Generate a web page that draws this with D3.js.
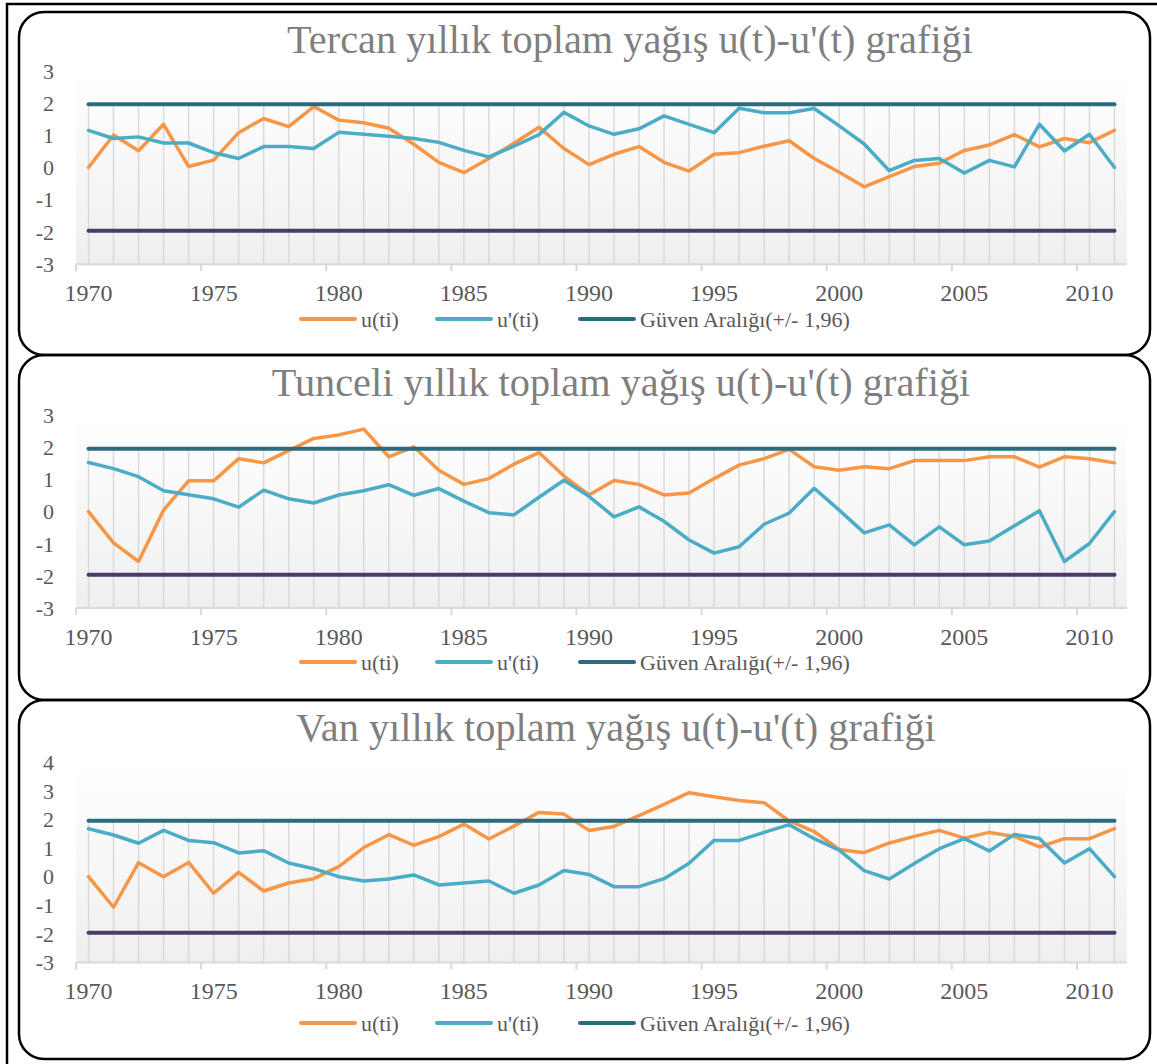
<!DOCTYPE html>
<html>
<head>
<meta charset="utf-8">
<script src="https://cdn.jsdelivr.net/npm/d3@7"></script>
<style>
  body { margin: 0; background: #fff; }
  svg { display: block; }
  text { font-family: "Liberation Serif", "DejaVu Serif", serif; }
</style>
</head>
<body>
<svg id="chart" width="1157" height="1064"></svg>
<script>
'use strict'

/****** DATA ******/

const YEARS = [1970, 1971, 1972, 1973, 1974, 1975, 1976, 1977, 1978, 1979,
               1980, 1981, 1982, 1983, 1984, 1985, 1986, 1987, 1988, 1989,
               1990, 1991, 1992, 1993, 1994, 1995, 1996, 1997, 1998, 1999,
               2000, 2001, 2002, 2003, 2004, 2005, 2006, 2007, 2008, 2009,
               2010, 2011]
const LABEL_YEARS = [1970, 1975, 1980, 1985, 1990, 1995, 2000, 2005, 2010]
const BOUND = 1.96

const TITLES = [
  "Tercan yıllık toplam yağış u(t)-u'(t) grafiği",
  "Tunceli yıllık toplam yağış u(t)-u'(t) grafiği",
  "Van yıllık toplam yağış u(t)-u'(t) grafiği"
]
const LEGEND_LABELS = ['u(ti)', "u'(ti)", 'Güven Aralığı(+/- 1,96)']

const Y_TICKS_A = [-3, -2, -1, 0, 1, 2, 3]
const Y_TICKS_B = [-3, -2, -1, 0, 1, 2, 3, 4]

// u(t) / u'(t) per station
const tercanU  = [0, 1.01, 0.52, 1.34, 0.03, 0.23, 1.08, 1.52, 1.27, 1.89,
                  1.47, 1.39, 1.22, 0.72, 0.16, -0.16, 0.28, 0.75, 1.25, 0.59,
                  0.09, 0.41, 0.65, 0.16, -0.11, 0.41, 0.46, 0.66, 0.83, 0.28,
                  -0.15, -0.60, -0.28, 0.03, 0.13, 0.53, 0.70, 1.02, 0.64, 0.90,
                  0.77, 1.15]
const tercanUp = [1.15, 0.90, 0.95, 0.76, 0.76, 0.46, 0.28, 0.65, 0.65, 0.59,
                  1.09, 1.03, 0.97, 0.90, 0.78, 0.53, 0.33, 0.66, 1.02, 1.71,
                  1.29, 1.03, 1.20, 1.60, 1.34, 1.08, 1.84, 1.70, 1.70, 1.83,
                  1.29, 0.73, -0.10, 0.22, 0.28, -0.17, 0.22, 0.02, 1.34, 0.51,
                  1.03, 0]

const tunceliU  = [0, -0.97, -1.55, 0.05, 0.96, 0.96, 1.65, 1.52, 1.90, 2.28,
                   2.39, 2.57, 1.71, 2.02, 1.29, 0.85, 1.03, 1.48, 1.84, 1.11,
                   0.52, 0.97, 0.85, 0.52, 0.58, 1.03, 1.45, 1.65, 1.94, 1.40,
                   1.29, 1.40, 1.34, 1.59, 1.59, 1.59, 1.71, 1.71, 1.39, 1.71,
                   1.65, 1.52]
const tunceliUp = [1.53, 1.34, 1.09, 0.65, 0.53, 0.40, 0.14, 0.67, 0.40, 0.27,
                   0.52, 0.65, 0.84, 0.51, 0.72, 0.33, -0.03, -0.10, 0.45, 0.98,
                   0.48, -0.16, 0.15, -0.30, -0.88, -1.29, -1.09, -0.39, -0.04, 0.73,
                   0.05, -0.66, -0.41, -1.03, -0.47, -1.03, -0.91, -0.44, 0.03, -1.55,
                   -0.99, 0]

const vanU  = [0, -1.07, 0.49, 0, 0.50, -0.58, 0.15, -0.50, -0.22, -0.07,
               0.35, 1.02, 1.47, 1.10, 1.40, 1.84, 1.32, 1.77, 2.25, 2.19,
               1.62, 1.76, 2.14, 2.53, 2.94, 2.80, 2.67, 2.59, 1.95, 1.58,
               0.95, 0.84, 1.18, 1.41, 1.62, 1.35, 1.55, 1.41, 1.04, 1.33,
               1.33, 1.68]
const vanUp = [1.68, 1.46, 1.17, 1.62, 1.27, 1.19, 0.83, 0.91, 0.48, 0.28,
               0, -0.15, -0.08, 0.06, -0.29, -0.22, -0.15, -0.58, -0.29, 0.22,
               0.08, -0.35, -0.35, -0.07, 0.47, 1.27, 1.27, 1.55, 1.82, 1.33,
               0.93, 0.21, -0.08, 0.46, 0.98, 1.33, 0.90, 1.48, 1.34, 0.48,
               0.98, 0]

/****** LAYOUT ******/

const COLORS = { u: '#f79646', up: '#4bacc6', upper: '#2c6b7d', lower: '#4b3b66' }
const PLOT_LEFT = 76, PLOT_RIGHT = 1127
const TEXT_GRAY = '#595959'

// panel boxes, plot areas, title / legend positions
const panels = [
  { title: TITLES[0], u: tercanU, up: tercanUp, ticks: Y_TICKS_A,
    box: [12, 355], plot: [70.8, 264.2], titleX: 630, titleY: 53, legendY: 319 },
  { title: TITLES[1], u: tunceliU, up: tunceliUp, ticks: Y_TICKS_A,
    box: [355, 700], plot: [415.3, 608.1], titleX: 621, titleY: 396, legendY: 662 },
  { title: TITLES[2], u: vanU, up: vanUp, ticks: Y_TICKS_B,
    box: [700, 1059], plot: [762.4, 962.4], titleX: 616, titleY: 741, legendY: 1023 }
]

/****** DRAW ******/

const svg = d3.select('#chart')

const grad = svg.append('defs').append('linearGradient')
  .attr('id', 'plotbg')
  .attr('x1', 0).attr('y1', 0).attr('x2', 0).attr('y2', 1)
grad.append('stop').attr('offset', '0%').attr('stop-color', '#ffffff')
grad.append('stop').attr('offset', '100%').attr('stop-color', '#efefef')

// outer frame
svg.append('rect')
  .attr('x', 7).attr('y', 4)
  .attr('width', 1170).attr('height', 1080)
  .attr('fill', 'none')
  .attr('stroke', '#000')
  .attr('stroke-width', 2.5)

const x = d3.scaleBand()
  .domain(YEARS)
  .range([PLOT_LEFT, PLOT_RIGHT])
  .padding(0)
const cx = yr => x(yr) + x.bandwidth() / 2

let titleSize = null

panels.forEach(p => {
  const g = svg.append('g')
  const top = p.plot[0], bottom = p.plot[1]

  g.append('rect')
    .attr('x', 19).attr('y', p.box[0])
    .attr('width', 1131).attr('height', p.box[1] - p.box[0])
    .attr('rx', 25).attr('ry', 25)
    .attr('fill', 'none')
    .attr('stroke', '#000')
    .attr('stroke-width', 2.5)

  const y = d3.scaleLinear()
    .domain(d3.extent(p.ticks))
    .range([bottom, top])

  // plot background
  g.append('rect')
    .attr('x', PLOT_LEFT).attr('y', top)
    .attr('width', PLOT_RIGHT - PLOT_LEFT).attr('height', bottom - top)
    .attr('fill', 'url(#plotbg)')

  // drop lines
  g.selectAll('.drop')
    .data(YEARS)
    .join('line')
      .attr('class', 'drop')
      .attr('x1', cx).attr('x2', cx)
      .attr('y1', y(BOUND)).attr('y2', bottom)
      .attr('stroke', '#d9d9d9')
      .attr('stroke-width', 1.5)

  // x axis
  g.append('line')
    .attr('x1', PLOT_LEFT).attr('x2', PLOT_RIGHT)
    .attr('y1', bottom).attr('y2', bottom)
    .attr('stroke', '#d9d9d9')
    .attr('stroke-width', 2)

  g.selectAll('.xtick')
    .data(LABEL_YEARS)
    .join('line')
      .attr('class', 'xtick')
      .attr('x1', d => x(d)).attr('x2', d => x(d))
      .attr('y1', bottom).attr('y2', bottom + 7)
      .attr('stroke', '#d9d9d9')
      .attr('stroke-width', 2)

  g.selectAll('.xlabel')
    .data(LABEL_YEARS)
    .join('text')
      .attr('class', 'xlabel')
      .attr('x', cx)
      .attr('y', bottom + 36.5)
      .attr('text-anchor', 'middle')
      .attr('font-size', 24)
      .attr('fill', TEXT_GRAY)
      .text(d => d)

  // y labels
  g.selectAll('.ylabel')
    .data(p.ticks)
    .join('text')
      .attr('class', 'ylabel')
      .attr('x', 54)
      .attr('y', d => y(d))
      .attr('dy', '0.35em')
      .attr('text-anchor', 'end')
      .attr('font-size', 22)
      .attr('fill', TEXT_GRAY)
      .text(d => String(d))

  // series
  const line = d3.line()
    .x((d, i) => cx(YEARS[i]))
    .y(d => y(d))

  const series = [
    { vals: p.u, color: COLORS.u, w: 3.5 },
    { vals: p.up, color: COLORS.up, w: 3.5 },
    { vals: YEARS.map(() => BOUND), color: COLORS.upper, w: 4 },
    { vals: YEARS.map(() => -BOUND), color: COLORS.lower, w: 4 }
  ]

  g.selectAll('.series')
    .data(series)
    .join('path')
      .attr('class', 'series')
      .attr('fill', 'none')
      .attr('stroke', d => d.color)
      .attr('stroke-width', d => d.w)
      .attr('stroke-linejoin', 'round')
      .attr('stroke-linecap', 'round')
      .attr('d', d => line(d.vals))

  // legend
  const legendItems = [
    { label: LEGEND_LABELS[0], color: COLORS.u, x: 301 },
    { label: LEGEND_LABELS[1], color: COLORS.up, x: 437 },
    { label: LEGEND_LABELS[2], color: COLORS.upper, x: 580 }
  ]
  const leg = g.selectAll('.legend')
    .data(legendItems)
    .join('g')
      .attr('class', 'legend')
      .attr('transform', d => `translate(${d.x},${p.legendY})`)
  leg.append('line')
    .attr('x1', 0).attr('x2', 54)
    .attr('stroke', d => d.color)
    .attr('stroke-width', 4)
    .attr('stroke-linecap', 'round')
  leg.append('text')
    .attr('x', 60)
    .attr('dy', '0.35em')
    .attr('font-size', 22)
    .attr('fill', TEXT_GRAY)
    .text(d => d.label)

  // title
  const t = g.append('text')
    .attr('x', p.titleX)
    .attr('y', p.titleY)
    .attr('text-anchor', 'middle')
    .attr('fill', '#7f7f7f')
    .attr('font-size', 32)
    .text(p.title)
  if (titleSize === null) {
    titleSize = 32 * 686 / t.node().getComputedTextLength() // fit first title width
  }
  t.attr('font-size', titleSize)
})
</script>
</body>
</html>
